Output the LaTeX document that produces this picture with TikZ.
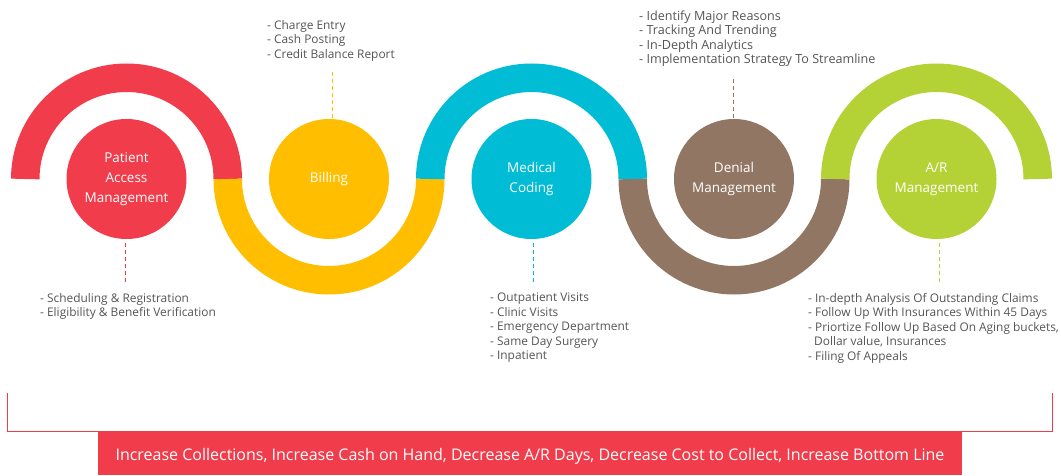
\documentclass[tikz,border=0pt]{standalone}
\usepackage{fontspec}
\setmainfont{Open Sans}
\usetikzlibrary{positioning}
\definecolor{pamred}{HTML}{F13C4B}
\definecolor{billyellow}{HTML}{FFBF00}
\definecolor{codecyan}{HTML}{00BCD4}
\definecolor{denbrown}{HTML}{917763}
\definecolor{argreen}{HTML}{B4D235}
\definecolor{txtgray}{HTML}{555555}
\begin{document}
\begin{tikzpicture}[x=1pt,y=1pt,node distance=202.5pt,
	main/.style={shape=circle, minimum size=120pt, inner sep=0pt, text=white, align=center, font=\fontsize{13.5}{20}\selectfont},
	list/.style={anchor=north west, inner sep=0pt, align=left, text=txtgray, font=\fontsize{11.9}{14.5}\selectfont},
	wave/.style={line width=28.5pt},
	link/.style={dash pattern=on 4pt off 3pt, line width=0.8pt},
	down/.style={shorten <=4pt, shorten >=10.5pt},
	up/.style={shorten <=0.5pt, shorten >=11pt}]
	\useasboundingbox (0,0) rectangle (1061,475);
	
	\node[main, fill=pamred] (1) at (126.5,296) {Patient\\Access\\Management};
	\node[main, fill=billyellow] (2) [right of=1] {Billing};
	\node[main, fill=codecyan] (3) [right of=2] {Medical\\Coding};
	\node[main, fill=denbrown] (4) [right of=3] {Denial\\Management};
	\node[main, fill=argreen] (5) [right of=4] {A/R\\Management};
	
	% the wave
	\draw[wave, pamred] (1) ++(-101.25,0) arc[start angle=180, end angle=0, radius=101.25];
	\draw[wave, billyellow] (2) ++(-101.25,0) arc[start angle=180, end angle=360, radius=101.25];
	\draw[wave, codecyan] (3) ++(-101.25,0) arc[start angle=180, end angle=0, radius=101.25];
	\draw[wave, denbrown] (4) ++(-101.25,0) arc[start angle=180, end angle=360, radius=101.25];
	\draw[wave, argreen] (5) ++(-101.25,0) arc[start angle=180, end angle=0, radius=101.25];
	
	\node[list] (t1) at (40,182) {- Scheduling \& Registration\\- Eligibility \& Benefit Verification};
	\node[list] (t2) at (267,455) {- Charge Entry\\- Cash Posting\\- Credit Balance Report};
	\node[list] (t3) at (490,182) {- Outpatient Visits\\- Clinic Visits\\- Emergency Department\\- Same Day Surgery\\- Inpatient};
	\node[list, font=\fontsize{12.6}{14.5}\selectfont] (t4) at (639,464.5) {- Identify Major Reasons\\- Tracking And Trending\\- In-Depth Analytics\\- Implementation Strategy To Streamline};
	\node[list] (t5) at (808,182) {- In-depth Analysis Of Outstanding Claims\\- Follow Up With Insurances Within 45 Days\\- Priortize Follow Up Based On Aging buckets,\\\hspace*{6pt}Dollar value, Insurances\\- Filing Of Appeals};
	
	\path
	([xshift=-1.5pt]1.south) edge[link, down, pamred] ([xshift=-1.5pt]1.south |- t1.north)
	([xshift=3pt]2.north) edge[link, up, billyellow] ([xshift=3pt]2.north |- t2.south)
	([xshift=1.5pt]3.south) edge[link, down, codecyan] ([xshift=1.5pt]3.south |- t3.north)
	([xshift=-1pt]4.north) edge[link, up, denbrown] ([xshift=-1pt]4.north |- t4.south)
	([xshift=3pt]5.south) edge[link, down, argreen] ([xshift=3pt]5.south |- t5.north);
	
	\node[fill=pamred, minimum width=864pt, minimum height=44pt, inner sep=0pt, text height=17pt, text depth=1.6pt, text=white, font=\fontsize{16}{18}\selectfont] (goal) at (530,22) {Increase Collections, Increase Cash on Hand, Decrease A/R Days, Decrease Cost to Collect, Increase Bottom Line};
	\draw[pamred, line width=0.8pt] (7,82) |- (1052,44) -- (1052,82);
\end{tikzpicture}
\end{document}
